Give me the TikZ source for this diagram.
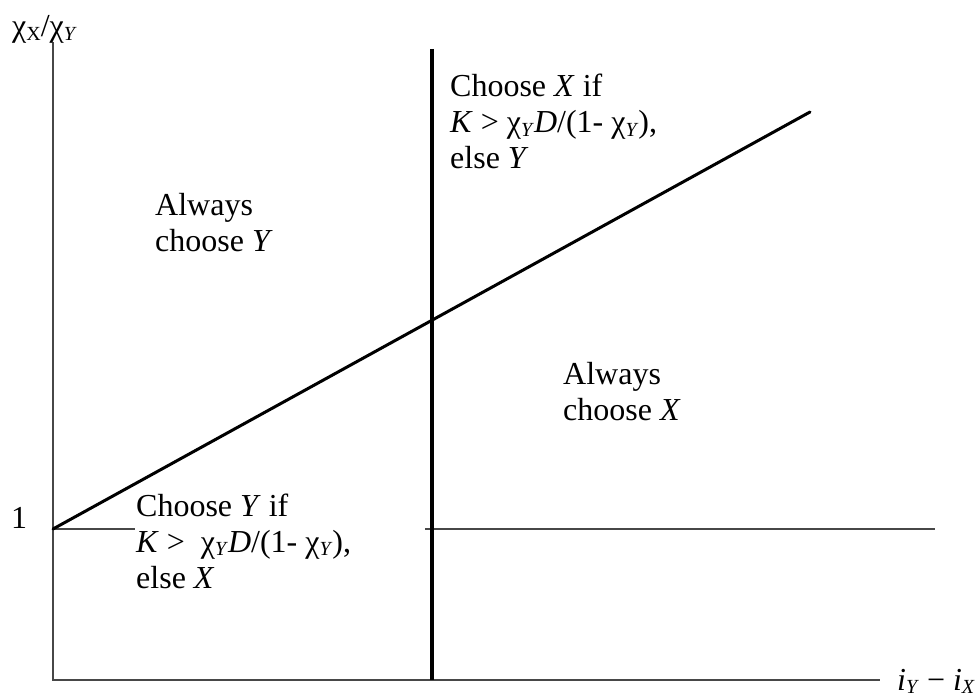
\documentclass[tikz,border=0pt]{standalone}
\usepackage{fontspec}
\setmainfont{Liberation Serif}
\newcommand{\sbs}[1]{\raisebox{-0.12em}{\fontsize{20}{20}\selectfont #1}}
\begin{document}
\begin{tikzpicture}[x=1pt,y=-1pt,
  lbl/.style={font=\fontsize{32}{36}\selectfont, inner sep=0pt, anchor=base west, align=left},
  axisline/.style={line width=2.6pt, draw=black!72},
  oneline/.style={line width=2.2pt, draw=black!72},
  thickline/.style={line width=4pt, draw=black},
  diagline/.style={line width=3pt, draw=black, line cap=round}]
\useasboundingbox (0,0) rectangle (979,700);
% coordinates
\coordinate (O) at (53,680);
\coordinate (T) at (53,42);
\coordinate (R) at (880,680);
\coordinate (H1) at (53,529);
\coordinate (H1e) at (135,529);
\coordinate (H2) at (425,529);
\coordinate (H2e) at (935,529);
\coordinate (Vt) at (432,49);
\coordinate (Vb) at (432,680);
\coordinate (De) at (810,112);
% lines
\draw[axisline] (T) -- (O) -- (R);
\draw[oneline] (H1) -- (H1e);
\draw[oneline] (H2) -- (H2e);
\draw[thickline] (Vt) -- (Vb);
\draw[diagline] (H1) -- (De);
% labels (base anchor = baseline of the last line)
\node[lbl] (ylab) at (12,37) {χ\sbs{X}/χ\sbs{\textit{Y}}};
\node[lbl, anchor=center] (one) at (19,518) {1};
\node[lbl] (xlab) at (897,690) {\textit{i}\sbs{\textit{Y}} − \textit{i}\sbs{\textit{X}}};
\node[lbl] (alwaysY) at (155,252) {Always\\choose \textit{Y}};
\node[lbl] (alwaysX) at (563,420) {Always\\choose \textit{X}};
\node[lbl] (chooseX) at (450,169) {Choose \textit{X} if\\\textit{K} > χ\sbs{\textit{Y}}\textit{D}/(1- χ\sbs{\textit{Y}}),\\else \textit{Y}};
\node[lbl] (chooseY) at (136,588) {Choose \textit{Y} if\\\textit{K} >\ \ χ\sbs{\textit{Y}}\textit{D}/(1- χ\sbs{\textit{Y}}),\\else \textit{X}};
\end{tikzpicture}
\end{document}
